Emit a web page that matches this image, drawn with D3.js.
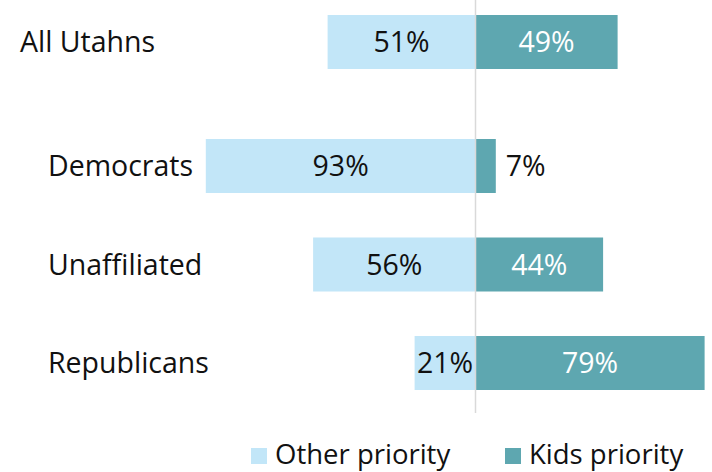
<!DOCTYPE html>
<html lang="en">
  <head>
    <meta charset="UTF-8" />
    <title>Kids priority by party</title>
    <script src="https://d3js.org/d3.v7.min.js"></script>
    <style>
      body {
        margin: 0;
        background: #fff;
      }
      svg {
        display: block;
        font-family: "Open Sans", "Noto Sans", sans-serif;
      }
    </style>
  </head>
  <body>
    <svg width="712" height="472"></svg>
    <script>
      // Data
      const groups = ["All Utahns", "Democrats", "Unaffiliated", "Republicans"];
      const otherPriority = [51, 93, 56, 21];
      const kidsPriority = [49, 7, 44, 79];
      const seriesNames = ["Other priority", "Kids priority"];

      const colors = { other: "#c2e6f8", kids: "#5ea7b0" };
      const fontSize = 28.5;

      const svg = d3.select("svg");
      const centerX = 475.5;
      const pxPerPct = 2.9;

      // x scale: percent -> pixel offset from center
      const x = d3
        .scaleLinear()
        .domain([-100, 100])
        .range([centerX - 100 * pxPerPct, centerX + 100 * pxPerPct]);

      // y: first row stands apart from the party rows
      const barH = 54;
      const rowStep = 98.5;
      const extraGap = 25.5;
      const y = d3.scaleLinear().domain([0, 1]).range([15, 15 + rowStep]);
      const rowTop = (i) => y(i) + (i > 0 ? extraGap : 0);

      const rows = groups.map((g, i) => ({
        name: g,
        other: otherPriority[i],
        kids: kidsPriority[i],
        i,
      }));

      // other priority bars (to the left)
      svg
        .selectAll(".bar-other")
        .data(rows)
        .enter()
        .append("rect")
        .attr("class", "bar-other")
        .attr("x", (d) => x(-d.other))
        .attr("y", (d) => rowTop(d.i))
        .attr("width", (d) => x(0) - x(-d.other))
        .attr("height", barH)
        .attr("fill", colors.other);

      // kids priority bars (to the right)
      svg
        .selectAll(".bar-kids")
        .data(rows)
        .enter()
        .append("rect")
        .attr("class", "bar-kids")
        .attr("x", x(0))
        .attr("y", (d) => rowTop(d.i))
        .attr("width", (d) => x(d.kids) - x(0))
        .attr("height", barH)
        .attr("fill", colors.kids);

      // center line
      svg
        .append("line")
        .attr("x1", x(0))
        .attr("x2", x(0))
        .attr("y1", 0)
        .attr("y2", 413)
        .attr("stroke", "#d9d9d9")
        .attr("stroke-width", 1.5);

      // group labels
      svg
        .selectAll(".group-label")
        .data(rows)
        .enter()
        .append("text")
        .attr("class", "group-label")
        .attr("x", (d) => (d.i === 0 ? 20 : 48))
        .attr("y", (d) => rowTop(d.i) + barH / 2)
        .attr("dy", "0.36em")
        .attr("font-size", fontSize)
        .attr("fill", "#111")
        .text((d) => d.name);

      // value labels
      svg
        .selectAll(".val-other")
        .data(rows)
        .enter()
        .append("text")
        .attr("x", (d) => (x(-d.other) + x(0)) / 2)
        .attr("y", (d) => rowTop(d.i) + barH / 2)
        .attr("dy", "0.36em")
        .attr("text-anchor", "middle")
        .attr("font-size", fontSize)
        .attr("fill", "#111")
        .text((d) => d.other + "%");

      svg
        .selectAll(".val-kids")
        .data(rows)
        .enter()
        .append("text")
        .attr("x", (d) =>
          d.kids < 15 ? x(d.kids) + 10 : (x(0) + x(d.kids)) / 2
        )
        .attr("y", (d) => rowTop(d.i) + barH / 2)
        .attr("dy", "0.36em")
        .attr("text-anchor", (d) => (d.kids < 15 ? "start" : "middle"))
        .attr("font-size", fontSize)
        .attr("fill", (d) => (d.kids < 15 ? "#111" : "#fff"))
        .text((d) => d.kids + "%");

      // legend
      const legendX = [251, 505];
      const legend = svg
        .selectAll(".legend")
        .data(seriesNames)
        .enter()
        .append("g")
        .attr("class", "legend")
        .attr("transform", (d, i) => `translate(${legendX[i]},448)`);

      legend
        .append("rect")
        .attr("width", 16)
        .attr("height", 16)
        .attr("fill", (d, i) => (i === 0 ? colors.other : colors.kids));

      legend
        .append("text")
        .attr("x", 24)
        .attr("y", 16)
        .attr("font-size", 27.5)
        .attr("fill", "#111")
        .text((d) => d);
    </script>
  </body>
</html>
